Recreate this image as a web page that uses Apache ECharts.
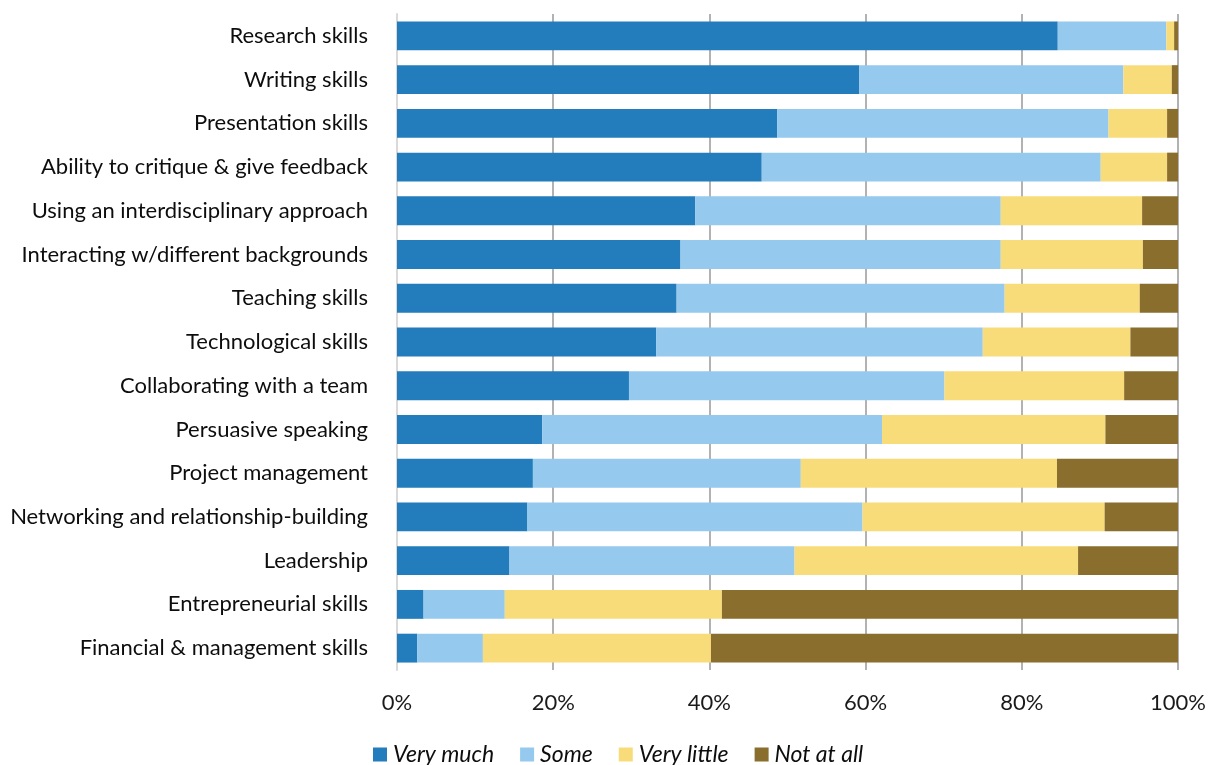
<!DOCTYPE html>
<html>
<head>
<meta charset="utf-8">
<script src="https://cdn.jsdelivr.net/npm/echarts@6/dist/echarts.min.js"></script>
<style>html,body{margin:0;padding:0;background:#fff}#c{width:1209px;height:765px}</style>
</head>
<body>
<div id="c"></div>
<script>
const categories = [
  "Research skills",
  "Writing skills",
  "Presentation skills",
  "Ability to critique & give feedback",
  "Using an interdisciplinary approach",
  "Interacting w/different backgrounds",
  "Teaching skills",
  "Technological skills",
  "Collaborating with a team",
  "Persuasive speaking",
  "Project management",
  "Networking and relationship-building",
  "Leadership",
  "Entrepreneurial skills",
  "Financial & management skills"
];
const veryMuch   = [84.6, 59.2, 48.7, 46.7, 38.2, 36.3, 35.8, 33.2, 29.7, 18.6, 17.4, 16.7, 14.4, 3.4, 2.6];
const some       = [13.9, 33.8, 42.4, 43.4, 39.1, 41.0, 42.0, 41.8, 40.4, 43.5, 34.3, 42.9, 36.5, 10.4, 8.4];
const veryLittle = [1.0, 6.2, 7.5, 8.5, 18.1, 18.2, 17.3, 18.9, 23.0, 28.6, 32.8, 31.0, 36.3, 27.8, 29.2];
const notAtAll   = [0.5, 0.8, 1.4, 1.4, 4.6, 4.5, 4.9, 6.1, 6.9, 9.3, 15.5, 9.4, 12.8, 58.4, 59.8];
const seriesNames = ["Very much", "Some", "Very little", "Not at all"];
const tickValues = [0, 20, 40, 60, 80, 100];

const colors = ["#237dbc", "#95c9ee", "#f8dc7a", "#8a6e2d"];
const font = "Lato";
const chart = echarts.init(document.getElementById('c'));
const dataSets = [veryMuch, some, veryLittle, notAtAll];
chart.setOption({
  animation: false,
  color: colors,
  grid: { left: 397, right: 28, top: 14, bottom: 95, containLabel: false },
  legend: {
    data: seriesNames,
    top: 738,
    left: 368,
    itemWidth: 14,
    itemHeight: 14,
    itemGap: 26,
    icon: 'rect',
    textStyle: { fontFamily: font, fontSize: 23, fontStyle: 'italic', color: '#0d0d0d', padding: [0, 0, 0, 1] }
  },
  xAxis: {
    type: 'value',
    min: 0, max: 100, interval: 20,
    axisLine: { show: false },
    axisTick: { show: false },
    axisLabel: {
      margin: 22,
      formatter: v => tickValues.includes(v) ? v + '%' : '',
      fontFamily: font, fontSize: 22, color: '#1a1a1a'
    },
    splitLine: { show: true, lineStyle: { color: '#999', width: 1.5 } }
  },
  yAxis: {
    type: 'category',
    data: categories,
    inverse: true,
    axisLine: { show: true, lineStyle: { color: '#d9d9d9', width: 2 } },
    axisTick: { show: false },
    axisLabel: { margin: 29, fontFamily: font, fontSize: 22, color: '#0d0d0d' }
  },
  series: seriesNames.map((n, i) => ({
    name: n,
    type: 'bar',
    stack: 'total',
    barCategoryGap: '34%',
    data: dataSets[i],
    itemStyle: { color: colors[i] }
  }))
});
</script>
</body>
</html>
